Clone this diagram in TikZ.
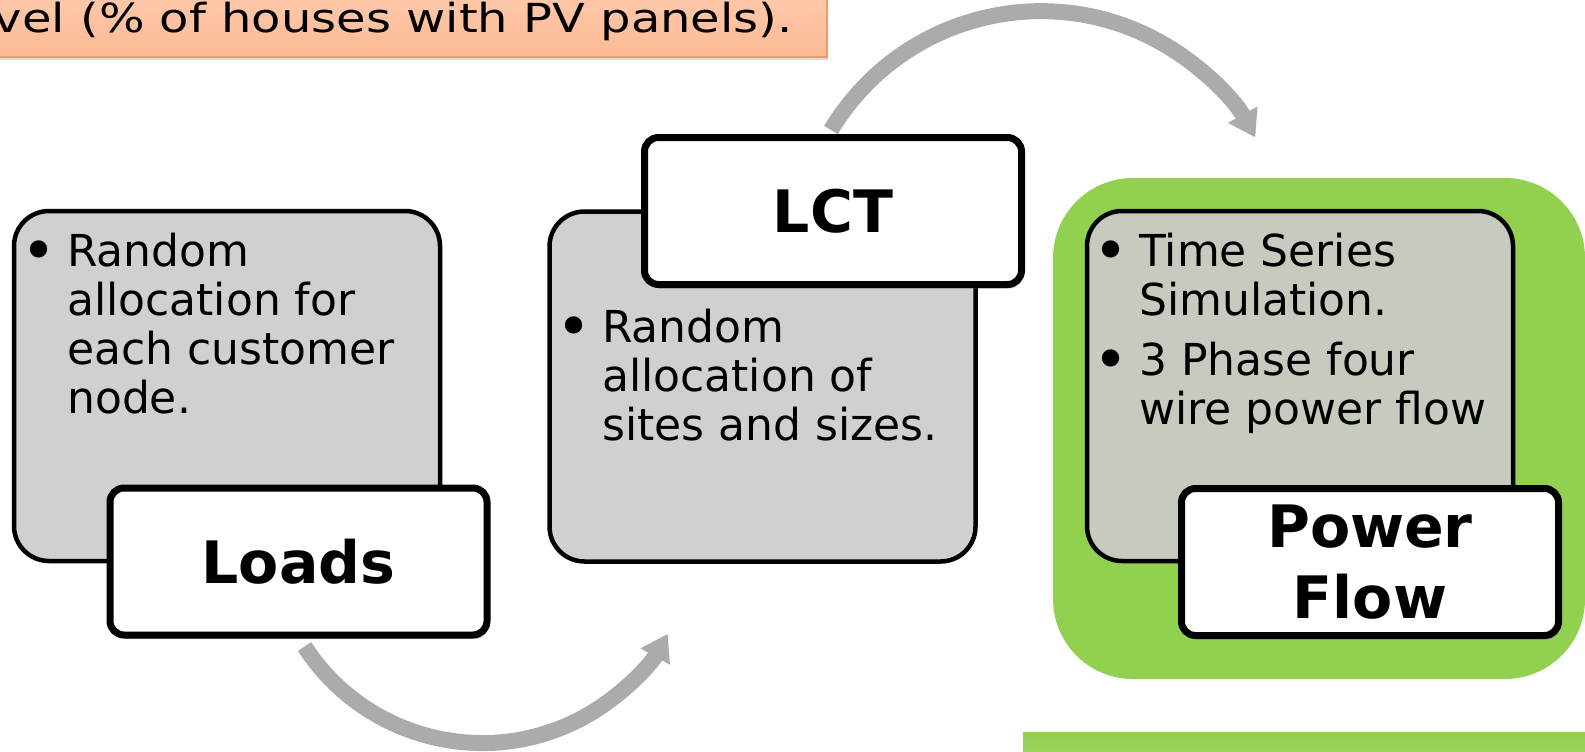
\documentclass[tikz,border=0pt]{standalone}
\usepackage{fontspec}
\setmainfont{DejaVu Sans}
\usetikzlibrary{arrows.meta,shadows,backgrounds}

\definecolor{boxgray}{HTML}{D0D0D0}
\definecolor{pfgray}{HTML}{C6CBBF}
\definecolor{pfgreen}{HTML}{92D050}
\definecolor{barlight}{HTML}{A6D96A}
\definecolor{arrowgray}{HTML}{ABABAB}
\definecolor{peachtop}{HTML}{FFCFB4}
\definecolor{peachbot}{HTML}{FCB994}
\definecolor{peachline}{HTML}{EE9A6C}

\begin{document}
\begin{tikzpicture}[x=1pt, y=-1pt,
  graybox/.style={draw, line width=4.5pt, fill=boxgray, rounded corners=35pt,
    minimum width=426pt, minimum height=350pt, inner sep=0pt},
  tagbox/.style={draw, line width=7pt, fill=white, rounded corners=14pt,
    minimum width=377pt, minimum height=147pt, inner sep=0pt, align=center,
    font=\fontsize{58.5}{71}\selectfont\bfseries,
    drop shadow={shadow xshift=2pt, shadow yshift=-4pt, opacity=0.4}},
  bullets/.style={anchor=base west, inner sep=0pt, font=\fontsize{44}{49}\selectfont},
  flowarrow/.style={draw=arrowgray, line width=16pt, -{Triangle[width=32pt,length=26pt]}}]
\useasboundingbox (0,0) rectangle (1585,752);

% banner at the top, cut by the page edge
\draw[draw=peachline, line width=1.5pt, top color=peachtop, bottom color=peachbot,
  drop shadow={shadow xshift=1pt, shadow yshift=-3pt, opacity=0.3}] (-30,-30) rectangle (827,57);
\node[anchor=base east, inner sep=0pt, xscale=1.2, font=\fontsize{40}{45}\selectfont]
  (banner) at (793,33) {vel (\% of houses with PV panels).};

% green panel and bar
\node[fill=pfgreen, rounded corners=80pt, minimum width=532pt, minimum height=501pt, inner sep=0pt]
  (pfPanel) at (1319,428.5) {};
\fill[top color=pfgreen, bottom color=barlight] (1023,732) rectangle (1600,770);

% content boxes
\node[graybox] (loadsBox) at (227,386) {};
\node[graybox] (lctBox) at (762.5,386.5) {};
\node[graybox, fill=pfgray] (pfBox) at (1300,386) {};

\node[bullets] (loadsList) at (27,266) {\begin{tabular}[t]{@{}p{40pt}@{}l@{}}
  \hspace*{-6pt}\raisebox{-5pt}{\scalebox{1.35}{\textbullet}} & Random\\ & allocation for\\ & each customer\\ & node.\end{tabular}};
\node[bullets] (lctList) at (562,342) {\begin{tabular}[t]{@{}p{40pt}@{}l@{}}
  \hspace*{-6pt}\raisebox{-5pt}{\scalebox{1.35}{\textbullet}} & Random\\ & allocation of\\ & sites and sizes.\end{tabular}};
\node[bullets] (pfList) at (1099,266) {\begin{tabular}[t]{@{}p{40pt}@{}l@{}}
  \hspace*{-6pt}\raisebox{-5pt}{\scalebox{1.35}{\textbullet}} & Time Series\\ & Simulation.\\[11pt]
  \hspace*{-6pt}\raisebox{-5pt}{\scalebox{1.35}{\textbullet}} & 3 Phase four\\ & wire power flow\end{tabular}};

% title tags
\node[tagbox] (loadsTag) at (298.5,561.5) {Loads};
\node[tagbox] (lctTag) at (833,211) {LCT};
\node[tagbox] (pfTag) at (1370,562) {Power\\Flow};

% curved arrows behind the tags
\begin{scope}[on background layer]
\draw[flowarrow] (loadsTag.south) ++(6,8) arc[start angle=147, end angle=29, radius=212];
\draw[flowarrow] (lctTag.north) ++(-2,-4) arc[start angle=211, end angle=331, radius=245];
\end{scope}
\end{tikzpicture}
\end{document}
